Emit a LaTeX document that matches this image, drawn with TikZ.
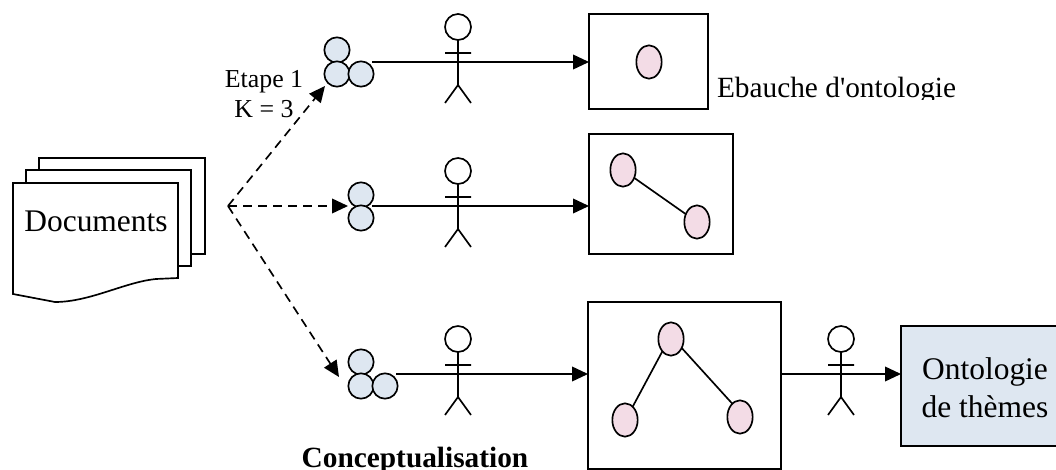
\documentclass[tikz,border=0pt]{standalone}
\usepackage{fontspec}
\setmainfont{Liberation Serif}
\newfontfamily\plainserif{Liberation Serif}
\usetikzlibrary{arrows.meta,shapes.geometric}
\definecolor{cblue}{HTML}{DEE7F1}
\definecolor{cpink}{HTML}{F3DCE6}
\tikzset{
  x=0.75pt,y=-0.75pt,
  ln/.style={draw=black,line width=1.25pt},
  sheet/.style={ln,fill=white},
  clus/.style={circle,ln,fill=cblue,inner sep=0pt,outer sep=0pt,minimum size=19pt},
  onto/.style={ellipse,ln,fill=cpink,inner sep=0pt,outer sep=0pt,minimum width=19pt,minimum height=25pt},
  flow/.style={ln,-{Triangle[length=12pt,width=11pt]}},
  dash flow/.style={ln,dash pattern=on 6.75pt off 4.5pt,-{Triangle[length=12pt,width=11pt]}},
  lbl/.style={inner sep=0pt,outer sep=0pt,anchor=base},
  pics/actor/.style={code={
    \draw[ln] (0,0) circle[radius=9.75pt];
    \draw[ln] (0,13) -- (0,58) (-13,26) -- (13,26) (-13,76) -- (0,58) -- (13,76);
  }}
}
\begin{document}
\begin{tikzpicture}
\useasboundingbox (0,0) rectangle (1056,470);
% documents
\draw[sheet] (39,254) -- (39,158) -- (205,158) -- (205,254) -- (190,254) -- cycle;
\draw[sheet] (26,266) -- (26,170) -- (191,170) -- (191,266) -- (176,266) -- cycle;
\draw[sheet] (13,183) -- (178,183) -- (178,278) -- (156,279) .. controls (125,282) and (90,302) .. (55,302) -- (13,294) -- cycle;
\node[lbl,font=\fontsize{23.6pt}{27pt}\selectfont] (docs) at (96,232) {Documents};
% origin
\coordinate (o) at (228,206);
% clusters
\node[clus] (a1) at (337,50) {};
\node[clus] (a2) at (337,74) {};
\node[clus] (a3) at (361,74) {};
\node[clus] (b1) at (361,195) {};
\node[clus] (b2) at (361,218) {};
\node[clus] (c1) at (361,362) {};
\node[clus] (c2) at (361,386) {};
\node[clus] (c3) at (385,386) {};
\coordinate (a0) at (372,62);
\coordinate (b0) at (372,206);
\coordinate (c0) at (396,374);
\coordinate (a9) at (325,86);
\coordinate (b9) at (348,206);
\coordinate (c9) at (339,377);
\draw[dash flow] (o) -- (a9);
\draw[dash flow] (o) -- (b9);
\draw[dash flow] (o) -- (c9);
% boxes
\draw[ln] (589,14) rectangle (708,109);
\draw[ln] (589,134) rectangle (733,254);
\draw[ln] (588,302) rectangle (781,469);
\draw[ln,fill=cblue] (901,326) rectangle (1060,446);
\coordinate (ba) at (589,62);
\coordinate (bb) at (589,206);
\coordinate (bc) at (588,374);
\coordinate (bd1) at (781,374);
\coordinate (bd) at (901,374);
\draw[flow] (a0) -- (ba);
\draw[flow] (b0) -- (bb);
\draw[flow] (c0) -- (bc);
\draw[flow] (bd1) -- (bd);
% actors
\pic at (458,27) {actor};
\pic at (458,171) {actor};
\pic at (458,339) {actor};
\pic at (841,339) {actor};
% ontology nodes
\node[onto] (e1) at (649,62) {};
\node[onto] (e2) at (623,170) {};
\node[onto] (e3) at (697,222) {};
\node[onto] (e4) at (671,339) {};
\node[onto] (e5) at (625,420) {};
\node[onto] (e6) at (740,417) {};
\draw[ln] (e2) -- (e3);
\draw[ln] (e4.-125) -- (e5.60);
\draw[ln] (e4.-40) -- (e6.120);
% labels
\node[lbl,font=\fontsize{19.4pt}{24pt}\selectfont] (t1a) at (264,88) {Etape 1};
\node[lbl,font=\fontsize{19.4pt}{24pt}\selectfont] (t1b) at (264,118) {K = 3};
\begin{scope}
\clip (700,60) rectangle (1000,100);
\node[lbl,anchor=base west,font=\plainserif\fontsize{22pt}{26pt}\selectfont] (t2) at (717,98) {Ebauche d'ontologie};
\end{scope}
\node[lbl,font=\fontsize{23.6pt}{28pt}\selectfont] (t3a) at (985,379) {Ontologie};
\node[lbl,font=\fontsize{23.6pt}{28pt}\selectfont] (t3b) at (985,417) {de thèmes};
\node[lbl,font=\fontsize{22pt}{28pt}\selectfont\bfseries] (t4) at (415,467) {Conceptualisation};
\end{tikzpicture}
\end{document}
